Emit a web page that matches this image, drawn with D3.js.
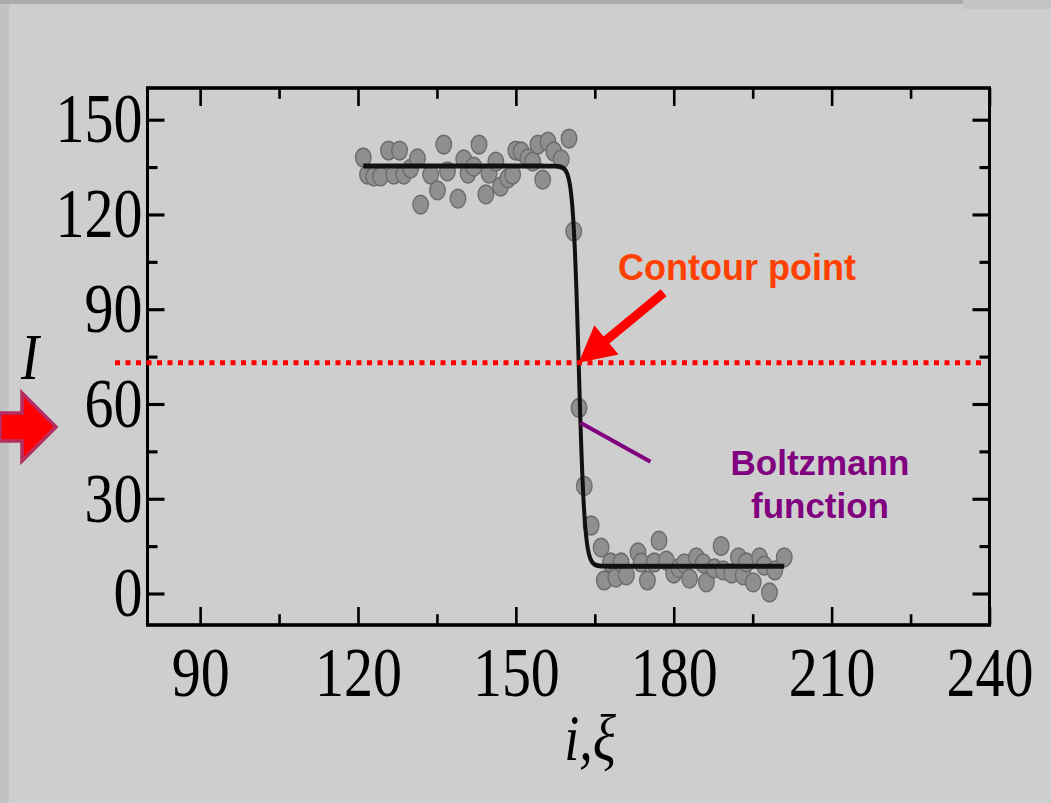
<!DOCTYPE html>
<html>
<head>
<meta charset="utf-8">
<script src="https://cdn.jsdelivr.net/npm/d3@7"></script>
<style>
  html, body { margin: 0; padding: 0; background: #cecece; }
  svg { display: block; }
</style>
</head>
<body>
<svg id="chart" width="1051" height="803"></svg>
<script>
// Measured intensity samples along the scan line (position i, intensity I)
const sampleX = [
  121.0, 121.8, 123.0, 124.3, 125.8, 126.8, 127.9, 128.7, 130.0, 131.3, 131.9, 133.8, 135.1,
  136.3, 137.0, 139.0, 140.1, 140.9, 142.0, 143.0, 144.3, 144.9, 146.2, 147.1, 148.5, 149.4,
  150.0, 151.0, 152.3, 153.2, 154.2, 155.1, 156.1, 157.2, 158.6, 160.1,
  161.0, 162.0, 163.0, 164.3,
  166.2, 166.8, 168.0, 169.0, 170.0, 171.0, 173.2, 173.8, 175.0, 176.3, 177.2, 178.6, 180.0,
  181.0, 182.0, 183.0, 184.3, 185.6, 186.2, 187.7, 189.0, 189.4, 191.0, 192.3, 193.2, 193.8,
  195.1, 196.3, 197.2, 198.2, 199.2, 201.0
];
const sampleI = [
  138.0, 132.6, 132.0, 132.0, 140.2, 132.6, 140.2, 132.6, 134.5, 137.7, 123.1, 132.6, 127.6,
  142.1, 133.6, 125.0, 137.4, 132.9, 135.1, 142.1, 126.3, 132.9, 136.7, 128.8, 131.4, 132.6,
  140.2, 139.9, 137.7, 136.7, 142.1, 131.0, 143.0, 139.9, 137.4, 144.0,
  114.6, 58.7, 34.0, 21.5,
  14.5, 4.1, 9.8, 5.0, 9.8, 5.7, 13.0, 9.8, 4.1, 9.8, 16.7, 10.4, 6.3,
  8.0, 9.5, 4.7, 11.4, 9.5, 3.5, 7.9, 15.0, 7.3, 6.3, 11.4, 5.7, 9.8,
  3.5, 11.4, 8.8, 0.3, 7.3, 11.4
];

// Boltzmann fit parameters: I(x) = A2 + (A1 - A2) / (1 + exp((x - x0) / dx))
const fitA1 = 135.3;
const fitA2 = 8.6;
const fitX0 = 161.95;
const fitDx = 0.56;
const fitRange = [121, 201];

// Contour threshold and the level where the fit label points
const contourLevel = 73;
const pointerLevel = 54;

// Axis ticks
const xTicksMajor = [90, 120, 150, 180, 210, 240];
const xTicksMinor = [105, 135, 165, 195, 225];
const yTicksMajor = [0, 30, 60, 90, 120, 150];
const yTicksMinor = [15, 45, 75, 105, 135];

const xDomain = [80, 240];
const yDomain = [-10, 160];

// ---------------------------------------------------------------------------
const svg = d3.select("#chart");
const W = 1051, H = 803;
const k = 1.2; // vertical stretch of the plot panel

const frameL = 147.5, frameR = 989.5, frameT = 88, frameB = 625;

// page background and edge strips
svg.append("rect").attr("width", W).attr("height", H).attr("fill", "#cecece");
svg.append("rect").attr("x", 0).attr("y", 0).attr("width", 9).attr("height", H).attr("fill", "#c2c2c2");
svg.append("rect").attr("x", 0).attr("y", 0).attr("width", W).attr("height", 4).attr("fill", "#ababab");
svg.append("rect").attr("x", 963).attr("y", 0).attr("width", 88).attr("height", 9).attr("fill", "#c4c4c4");

const x = d3.scaleLinear().domain(xDomain).range([frameL, frameR]);
const y = d3.scaleLinear().domain(yDomain).range([frameB / k, frameT / k]);

const boltz = v => fitA2 + (fitA1 - fitA2) / (1 + Math.exp((v - fitX0) / fitDx));
const boltzInv = I => fitX0 + fitDx * Math.log((fitA1 - fitA2) / (I - fitA2) - 1);

const plot = svg.append("g").attr("transform", `scale(1,${k})`);

// scatter points
plot.append("g").selectAll("circle")
  .data(sampleX.map((v, i) => [v, sampleI[i]]))
  .join("circle")
  .attr("cx", d => x(d[0]))
  .attr("cy", d => y(d[1]))
  .attr("r", 7.8)
  .attr("fill", "#8f8f8f")
  .attr("stroke", "#6c6c6c")
  .attr("stroke-width", 1.3);

// fitted Boltzmann curve
const curveXs = d3.range(fitRange[0], fitRange[1] + 0.001, 0.02);
plot.append("path")
  .datum(curveXs)
  .attr("fill", "none")
  .attr("stroke", "#111")
  .attr("stroke-width", 4)
  .attr("stroke-linejoin", "round")
  .attr("d", d3.line().x(d => x(d)).y(d => y(boltz(d))));

// axes: ticks point inward on all four sides
const tickFont = "Liberation Serif, Times New Roman, serif";
function styleAxis(g) {
  g.select(".domain").remove();
  g.selectAll(".tick line").attr("stroke", "#000").attr("stroke-width", 2.6);
  g.selectAll("text").attr("font-family", tickFont).attr("font-size", 58).attr("fill", "#000");
}

const yB = frameB / k, yT = frameT / k;

plot.append("g").attr("transform", `translate(0,${yB})`)
  .call(d3.axisBottom(x).tickValues(xTicksMajor).tickSize(-15).tickPadding(18).tickFormat(d3.format("d")))
  .call(styleAxis);
plot.append("g").attr("transform", `translate(0,${yB})`)
  .call(d3.axisBottom(x).tickValues(xTicksMinor).tickSize(-9).tickFormat(""))
  .call(styleAxis);
plot.append("g").attr("transform", `translate(0,${yT})`)
  .call(d3.axisTop(x).tickValues(xTicksMajor).tickSize(-15).tickFormat(""))
  .call(styleAxis);
plot.append("g").attr("transform", `translate(0,${yT})`)
  .call(d3.axisTop(x).tickValues(xTicksMinor).tickSize(-9).tickFormat(""))
  .call(styleAxis);

plot.append("g").attr("transform", `translate(${frameL},0)`)
  .call(d3.axisLeft(y).tickValues(yTicksMajor).tickSize(-17).tickPadding(5).tickFormat(d3.format("d")))
  .call(styleAxis);
plot.append("g").attr("transform", `translate(${frameL},0)`)
  .call(d3.axisLeft(y).tickValues(yTicksMinor).tickSize(-10).tickFormat(""))
  .call(styleAxis);
plot.append("g").attr("transform", `translate(${frameR},0)`)
  .call(d3.axisRight(y).tickValues(yTicksMajor).tickSize(-17).tickFormat(""))
  .call(styleAxis);
plot.append("g").attr("transform", `translate(${frameR},0)`)
  .call(d3.axisRight(y).tickValues(yTicksMinor).tickSize(-10).tickFormat(""))
  .call(styleAxis);

// frame
plot.append("rect")
  .attr("x", frameL).attr("y", yT)
  .attr("width", frameR - frameL).attr("height", yB - yT)
  .attr("fill", "none").attr("stroke", "#000").attr("stroke-width", 3);

// axis titles
plot.append("text")
  .attr("x", 30).attr("y", 316)
  .attr("text-anchor", "middle")
  .attr("font-family", tickFont).attr("font-style", "italic").attr("font-size", 54)
  .text("I");
plot.append("text")
  .attr("x", 590).attr("y", 633)
  .attr("text-anchor", "middle")
  .attr("font-family", tickFont).attr("font-style", "italic").attr("font-size", 54)
  .text("i,ξ");

// ---------------------------------------------------------------------------
// annotations (page coordinates)
const px = v => x(v);
const py = v => y(v) * k;

const contourX = boltzInv(contourLevel);

// dotted threshold line
svg.append("line")
  .attr("x1", 115).attr("x2", 985)
  .attr("y1", py(contourLevel)).attr("y2", py(contourLevel))
  .attr("stroke", "#ff0000").attr("stroke-width", 5)
  .attr("stroke-dasharray", "5,5.5");

// arrow onto the contour point
(function () {
  const tx = px(contourX), ty = py(contourLevel);
  const sx = tx + 85, sy = ty - 70;
  const len = Math.hypot(sx - tx, sy - ty);
  const ux = (sx - tx) / len, uy = (sy - ty) / len; // from tip back toward start
  const nx = -uy, ny = ux;
  const headL = 36, headW = 19, shaftW = 4.6;
  const bx = tx + ux * headL, by = ty + uy * headL;
  const pts = [
    [tx, ty],
    [bx + nx * headW, by + ny * headW],
    [bx + nx * shaftW, by + ny * shaftW],
    [sx + nx * shaftW, sy + ny * shaftW],
    [sx - nx * shaftW, sy - ny * shaftW],
    [bx - nx * shaftW, by - ny * shaftW],
    [bx - nx * headW, by - ny * headW]
  ];
  svg.append("polygon")
    .attr("points", pts.map(p => p.join(",")).join(" "))
    .attr("fill", "#ff0000");
})();

svg.append("text")
  .attr("x", 618).attr("y", 280)
  .attr("font-family", "Liberation Sans, Arial, sans-serif")
  .attr("font-weight", "bold").attr("font-size", 36)
  .attr("fill", "#ff4000")
  .text("Contour point");

// pointer to the fitted curve
const pX = px(boltzInv(pointerLevel)), pY = py(pointerLevel);
svg.append("line")
  .attr("x1", pX).attr("y1", pY)
  .attr("x2", pX + 70).attr("y2", pY + 39)
  .attr("stroke", "#800080").attr("stroke-width", 4);

const fitLabel = svg.append("text")
  .attr("font-family", "Liberation Sans, Arial, sans-serif")
  .attr("font-weight", "bold").attr("font-size", 35)
  .attr("fill", "#800080")
  .attr("text-anchor", "middle");
fitLabel.append("tspan").attr("x", 820).attr("y", 475).text("Boltzmann");
fitLabel.append("tspan").attr("x", 820).attr("y", 518).text("function");

// block arrow at the left edge
svg.append("polygon")
  .attr("points", [[0, 413], [22, 413], [22, 393], [56, 427], [22, 461], [22, 441], [0, 441]]
    .map(p => p.join(",")).join(" "))
  .attr("fill", "#ff0000")
  .attr("stroke", "#b52e62")
  .attr("stroke-width", 3.5)
  .attr("stroke-linejoin", "miter");
</script>
</body>
</html>
